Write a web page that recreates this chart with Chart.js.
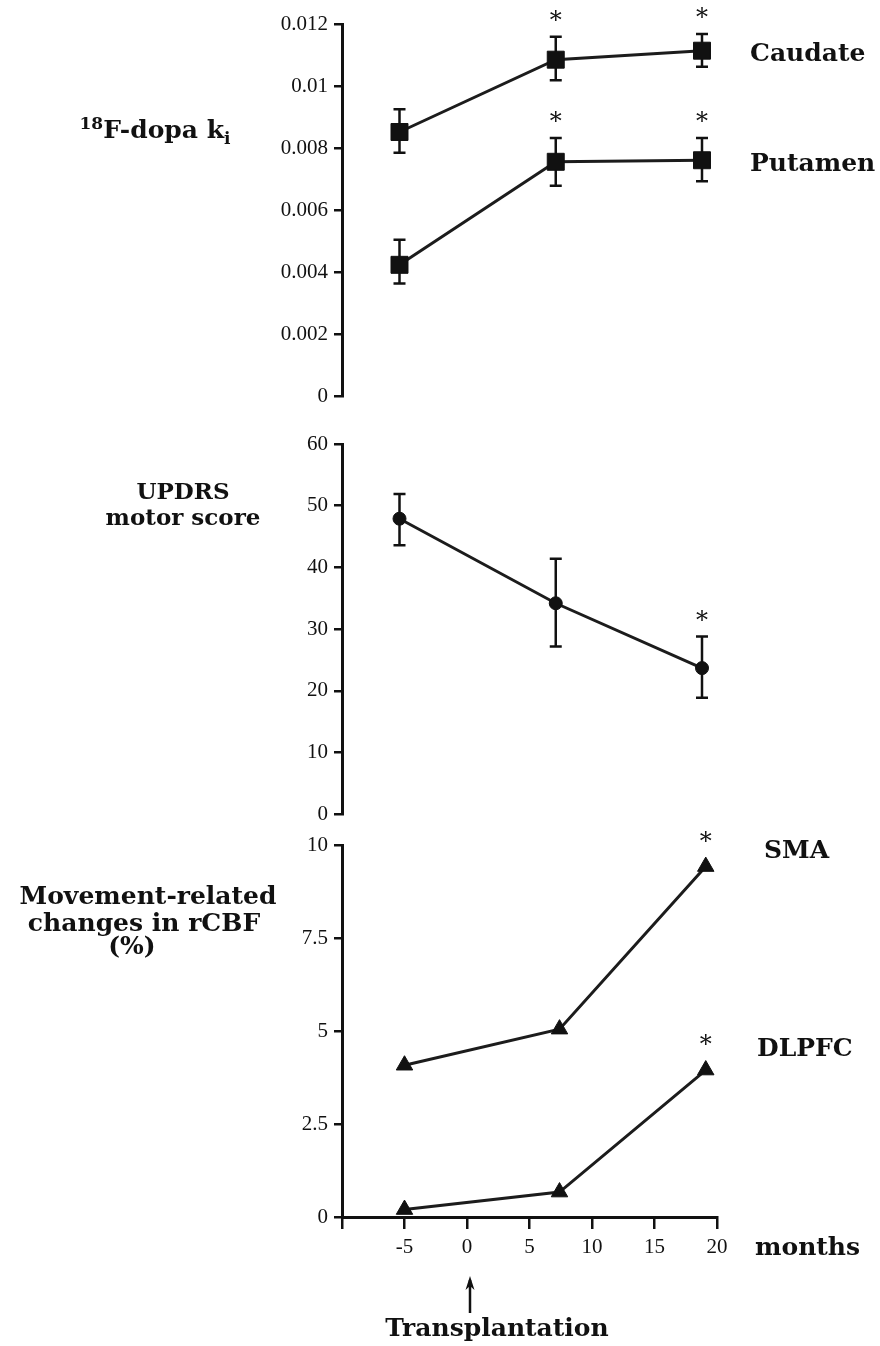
<!DOCTYPE html>
<html><head><meta charset="utf-8">
<script src="https://cdn.jsdelivr.net/npm/chart.js@4.4.0/dist/chart.umd.min.js"></script>
<style>
html,body{margin:0;padding:0;background:#fff;}
#wrap{position:relative;width:880px;height:1346px;overflow:hidden;background:#fff;}
canvas{position:absolute;left:0;}
.lbl{position:absolute;font-family:"DejaVu Serif",serif;font-weight:bold;font-size:25px;color:#111;white-space:nowrap;line-height:30px;}
.c{transform:translateX(-50%);text-align:center;}
sup{font-size:17px;position:relative;top:-9px;vertical-align:baseline;}
sub{font-size:17px;position:relative;top:6px;vertical-align:baseline;}
</style></head><body>
<div id="wrap">
<canvas id="c1" width="880" height="415" style="top:0"></canvas>
<canvas id="c2" width="880" height="413" style="top:420px"></canvas>
<canvas id="c3" width="880" height="526" style="top:820px"></canvas>

<div class="lbl c" style="left:155px;top:115px"><sup>18</sup>F-dopa k<sub>i</sub></div>
<div class="lbl c" style="left:183px;top:476px;font-size:23px">UPDRS</div>
<div class="lbl c" style="left:183px;top:502px;font-size:23px">motor score</div>
<div class="lbl c" style="left:148px;top:881px">Movement-related</div>
<div class="lbl c" style="left:144px;top:908px">changes in rCBF</div>
<div class="lbl c" style="left:132px;top:931px">(%)</div>

<div class="lbl" style="left:750px;top:38px">Caudate</div>
<div class="lbl" style="left:750px;top:148px">Putamen</div>
<div class="lbl" style="left:764px;top:835px">SMA</div>
<div class="lbl" style="left:757px;top:1033px">DLPFC</div>
<div class="lbl" style="left:755px;top:1232px">months</div>
<div class="lbl c" style="left:497px;top:1313px">Transplantation</div>
<svg style="position:absolute;left:460px;top:1272px" width="20" height="44">
  <line x1="10" y1="8" x2="10" y2="41" stroke="#111" stroke-width="2.5"/>
  <path d="M10 4 L5.5 18 L10 14 L14.5 18 Z" fill="#111"/>
</svg>
</div>
<script>
// ---- shared x axis (months) ----
const monthTicks = [-10, -5, 0, 5, 10, 15, 20];
const monthTickLabels = ["", "-5", "0", "5", "10", "15", "20"];

// ---- panel 1: 18F-dopa ki ----
const dopaMonths = [-5.4, 7.1, 18.8];
const caudate = [0.00852, 0.01085, 0.01114];
const caudateHigh = [0.00925, 0.01159, 0.01168];
const caudateLow = [0.00785, 0.01019, 0.01062];
const caudateSig = [false, true, true];
const putamen = [0.00424, 0.00756, 0.00761];
const putamenHigh = [0.00505, 0.00833, 0.00833];
const putamenLow = [0.00364, 0.00679, 0.00693];
const putamenSig = [false, true, true];
const dopaTicks = [0, 0.002, 0.004, 0.006, 0.008, 0.01, 0.012];
const dopaTickLabels = ["0", "0.002", "0.004", "0.006", "0.008", "0.01", "0.012"];

// ---- panel 2: UPDRS motor score ----
const updrsMonths = [-5.4, 7.1, 18.8];
const updrs = [47.9, 34.2, 23.7];
const updrsHigh = [51.9, 41.4, 28.8];
const updrsLow = [43.6, 27.2, 18.9];
const updrsSig = [false, false, true];
const updrsTicks = [0, 10, 20, 30, 40, 50, 60];
const updrsTickLabels = ["0", "10", "20", "30", "40", "50", "60"];

// ---- panel 3: movement-related rCBF changes ----
const rcbfMonths = [-5.0, 7.4, 19.1];
const sma = [4.08, 5.05, 9.42];
const smaSig = [false, false, true];
const dlpfc = [0.2, 0.67, 3.95];
const dlpfcSig = [false, false, true];
const rcbfTicks = [0, 2.5, 5, 7.5, 10];
const rcbfTickLabels = ["0", "2.5", "5", "7.5", "10"];

const INK = '#111';

function pts(xs, ys) { return xs.map((m, i) => ({ x: m, y: ys[i] })); }
function tickSetter(vals) { return (axis) => { axis.ticks = vals.map(v => ({ value: v })); }; }

const markPlugin = {
  id: 'marks',
  beforeDatasetsDraw(chart) {
    const ctx = chart.ctx, xs = chart.scales.x, ys = chart.scales.y;
    chart.data.datasets.forEach(ds => {
      if (!ds.errHigh) return;
      ctx.save();
      ctx.strokeStyle = INK; ctx.lineWidth = 2.5;
      ds.data.forEach((p, i) => {
        const x = xs.getPixelForValue(p.x);
        const yh = ys.getPixelForValue(ds.errHigh[i]);
        const yl = ys.getPixelForValue(ds.errLow[i]);
        ctx.beginPath();
        ctx.moveTo(x, yh); ctx.lineTo(x, yl);
        ctx.moveTo(x - 6, yh); ctx.lineTo(x + 6, yh);
        ctx.moveTo(x - 6, yl); ctx.lineTo(x + 6, yl);
        ctx.stroke();
      });
      ctx.restore();
    });
  },
  afterDatasetsDraw(chart) {
    const ctx = chart.ctx, xs = chart.scales.x, ys = chart.scales.y;
    ctx.save();
    ctx.fillStyle = INK;
    ctx.font = '24px "DejaVu Serif"';
    ctx.textAlign = 'center';
    ctx.textBaseline = 'alphabetic';
    chart.data.datasets.forEach(ds => {
      if (!ds.sig) return;
      ds.data.forEach((p, i) => {
        if (!ds.sig[i]) return;
        const x = xs.getPixelForValue(p.x);
        const c = ds.errHigh ? ys.getPixelForValue(ds.errHigh[i]) - 22 : ys.getPixelForValue(p.y) - 31;
        ctx.fillText('*', x, c + 13);
      });
    });
    ctx.restore();
  }
};

function seriesDs(data, style, radius, extra) {
  return Object.assign({
    data: data, showLine: true, borderColor: '#1c1c1c', borderWidth: 3,
    pointStyle: style, pointRadius: radius, pointHoverRadius: radius,
    pointBackgroundColor: INK, pointBorderColor: INK, pointBorderWidth: 1,
    clip: false
  }, extra);
}

function axisGrid(len) {
  return { display: true, drawOnChartArea: false, drawTicks: true, tickLength: len, tickWidth: 2.5, tickColor: INK, color: INK, lineWidth: 2.5 };
}

function makePanel(id, datasets, yMin, yMax, yTicks, yLabels, pad, showX) {
  return new Chart(document.getElementById(id), {
    type: 'scatter',
    data: { datasets: datasets },
    options: {
      responsive: false, animation: false, devicePixelRatio: 1,
      layout: { padding: pad },
      plugins: { legend: { display: false }, tooltip: { enabled: false } },
      events: [],
      scales: {
        x: {
          type: 'linear', min: -10, max: 20, display: showX,
          afterBuildTicks: tickSetter(monthTicks),
          afterFit: s => { s.height = showX ? 40 : 0; },
          grid: axisGrid(12),
          border: { display: true, width: 3, color: INK },
          ticks: { callback: (v) => monthTickLabels[monthTicks.indexOf(v)], font: { family: '"Liberation Serif"', size: 21 }, color: INK, padding: 6, maxRotation: 0, autoSkip: false }
        },
        y: {
          type: 'linear', min: yMin, max: yMax,
          afterBuildTicks: tickSetter(yTicks),
          afterFit: s => { s.width = 342; },
          grid: axisGrid(8),
          border: { display: true, width: 3, color: INK },
          ticks: { callback: (v) => yLabels[yTicks.indexOf(v)], font: { family: '"Liberation Serif"', size: 21 }, color: INK, padding: 6, autoSkip: false }
        }
      }
    },
    plugins: [markPlugin]
  });
}

makePanel('c1', [
  seriesDs(pts(dopaMonths, caudate), 'rect', 12, { errHigh: caudateHigh, errLow: caudateLow, sig: caudateSig }),
  seriesDs(pts(dopaMonths, putamen), 'rect', 12, { errHigh: putamenHigh, errLow: putamenLow, sig: putamenSig })
], 0, 0.012, dopaTicks, dopaTickLabels, { left: 0, right: 163, top: 24, bottom: 4 }, false);

makePanel('c2', [
  seriesDs(pts(updrsMonths, updrs), 'circle', 6.5, { errHigh: updrsHigh, errLow: updrsLow, sig: updrsSig })
], 0, 60, updrsTicks, updrsTickLabels, { left: 0, right: 163, top: 24, bottom: 7 }, false);

makePanel('c3', [
  seriesDs(pts(rcbfMonths, sma), 'triangle', 9.5, { sig: smaSig }),
  seriesDs(pts(rcbfMonths, dlpfc), 'triangle', 9.5, { sig: dlpfcSig })
], 0, 10, rcbfTicks, rcbfTickLabels, { left: 0, right: 163, top: 25, bottom: 89 }, true);
</script>
</body></html>
